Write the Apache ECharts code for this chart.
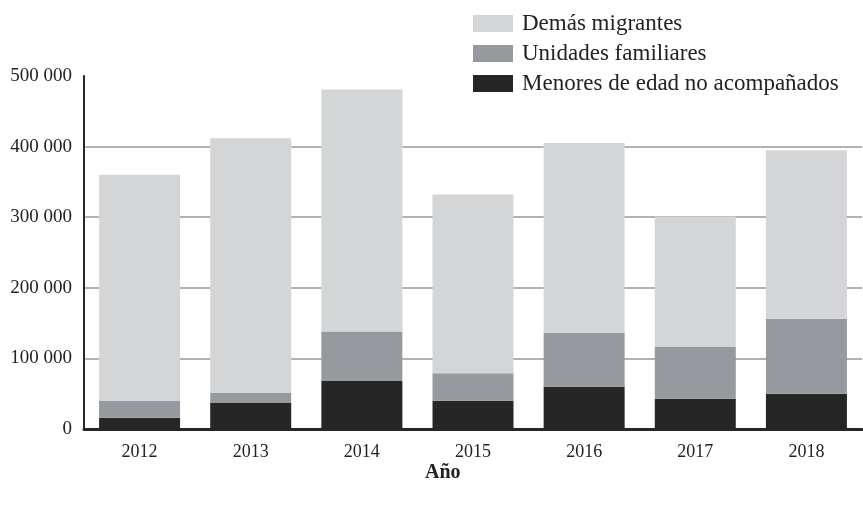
<!DOCTYPE html>
<html>
<head>
<meta charset="utf-8">
<script src="https://cdn.jsdelivr.net/npm/echarts@6/dist/echarts.min.js"></script>
<style>
  html, body { margin: 0; padding: 0; background: #fff; }
  #chart { width: 863px; height: 506px; }
</style>
</head>
<body>
<div id="chart"></div>
<script>
// datos
var years = ["2012", "2013", "2014", "2015", "2016", "2017", "2018"];
var menores = [16000, 37000, 68000, 40000, 60000, 43000, 50000];
var familias = [24000, 14000, 70000, 39000, 76000, 73000, 106000];
var demas = [320000, 361000, 343000, 253000, 269000, 185000, 239000];
var seriesNames = ["Demás migrantes", "Unidades familiares", "Menores de edad no acompañados"];

var font = "Liberation Serif";

function fmt(v) {
  return String(v).replace(/\B(?=(\d{3})+(?!\d))/g, " ");
}

var chart = echarts.init(document.getElementById("chart"));
var option = {
  animation: false,
  title: {
    text: "Año",
    left: 420,
    top: 458,
    textStyle: { fontFamily: font, fontSize: 20, fontWeight: "bold", color: "#222" }
  },
  legend: {
    orient: "vertical",
    left: 468,
    top: 7,
    itemWidth: 40,
    itemHeight: 17,
    itemGap: 7,
    icon: "rect",
    data: seriesNames,
    textStyle: { fontFamily: font, fontSize: 23, color: "#222", padding: [0, 0, 0, 4] }
  },
  grid: { left: 84, right: 1, top: 76, bottom: 77, containLabel: false },
  xAxis: {
    type: "category",
    data: years,
    axisLine: { lineStyle: { color: "#262626", width: 3 } },
    axisTick: { show: false },
    axisLabel: { fontFamily: font, fontSize: 18, color: "#222", margin: 14 }
  },
  yAxis: {
    type: "value",
    min: 0,
    max: 500000,
    interval: 100000,
    axisLine: { show: true, lineStyle: { color: "#262626", width: 2 } },
    axisTick: { show: false },
    axisLabel: { fontFamily: font, fontSize: 19, color: "#222", margin: 12, formatter: fmt },
    splitLine: {
      lineStyle: { color: ["#999", "#999", "#999", "#999", "#999", "rgba(0,0,0,0)"], width: 1.5 }
    }
  },
  series: [
    { name: seriesNames[2], type: "bar", stack: "t", barWidth: 81, data: menores, itemStyle: { color: "#262626" } },
    { name: seriesNames[1], type: "bar", stack: "t", data: familias, itemStyle: { color: "#96999d" } },
    { name: seriesNames[0], type: "bar", stack: "t", data: demas, itemStyle: { color: "#d4d5d7" } }
  ]
};
chart.setOption(option);
</script>
</body>
</html>
